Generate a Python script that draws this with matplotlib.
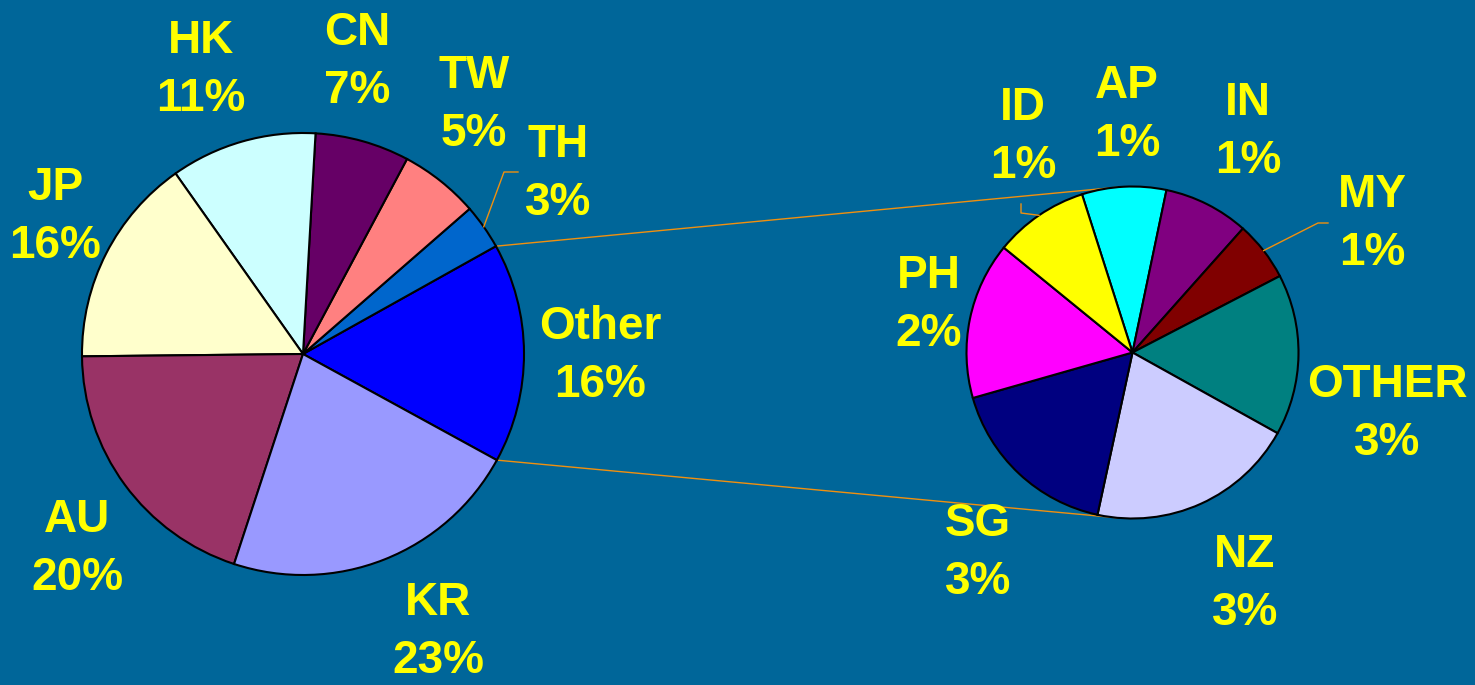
import matplotlib
matplotlib.use('Agg')
import matplotlib.pyplot as plt
import numpy as np

# main pie (counter-clockwise from the "Other" wedge)
main_names = ['Other', 'TH', 'TW', 'CN', 'HK', 'JP', 'AU', 'KR']
main_shares = [16.1, 3.3, 5.8, 6.9, 10.7, 15.4, 19.8, 22.1]
main_pct = ['16%', '3%', '5%', '7%', '11%', '16%', '20%', '23%']
main_colors = ['#0000FF', '#0066CC', '#FF8080', '#660066', '#CCFFFF',
               '#FFFFCC', '#993366', '#9999FF']

# breakdown of "Other" (clockwise from AP)
sub_names = ['AP', 'IN', 'MY', 'OTHER', 'NZ', 'SG', 'PH', 'ID']
sub_shares = [8.2, 8.3, 5.8, 15.7, 20.3, 17.2, 15.3, 9.2]
sub_pct = ['1%', '1%', '1%', '3%', '3%', '3%', '2%', '1%']
sub_colors = ['#00FFFF', '#800080', '#800000', '#008080', '#CCCCFF',
              '#000080', '#FF00FF', '#FFFF00']

W, H = 1475, 685
BG = '#006699'
YEL = '#FFFF00'
LINE = '#F0900F'

fig = plt.figure(figsize=(W / 100, H / 100), dpi=100, facecolor=BG)
ax = fig.add_axes([0, 0, 1, 1])
ax.set_facecolor(BG)

c1, r1 = (303, H - 354), 221
c2, r2 = (1132.5, H - 352.5), 166

edge = dict(edgecolor='black', linewidth=1.5)
w1, _ = ax.pie(main_shares, colors=main_colors, startangle=-28.7,
               counterclock=True, center=c1, radius=r1, wedgeprops=edge,
               frame=True)
w2, _ = ax.pie(sub_shares, colors=sub_colors, startangle=107.7,
               counterclock=False, center=c2, radius=r2, wedgeprops=edge,
               frame=True)
ax.set_xlim(0, W)
ax.set_ylim(0, H)
ax.set_aspect('auto')
ax.axis('off')


def on_circle(c, r, deg):
    a = np.radians(deg)
    return c[0] + r * np.cos(a), c[1] + r * np.sin(a)


# connector lines between the "Other" wedge and the breakdown pie
other = w1[0]
for a_main, a_sub in [(other.theta2, 94.4), (other.theta1, 264.7)]:
    x0, y0 = on_circle(c1, r1, a_main)
    x1, y1 = on_circle(c2, r2, a_sub)
    ax.plot([x0, x1], [y0, y1], color=LINE, lw=1, zorder=0.5)

# text positions (pixel coords, y from top)
main_pos = [(600, 356), (558, 174), (474, 105), (357, 62), (201, 70),
            (55, 217), (77, 549), (438, 632)]
sub_pos = [(1127, 115), (1248, 132), (1372, 224), (1387, 414),
           (1245, 584), (978, 553), (929, 305), (1023, 137)]

font = dict(color=YEL, fontsize=33, fontweight='bold',
            family=['Liberation Sans', 'DejaVu Sans'],
            ha='center', va='center', linespacing=1.42)
for name, pct, (x, y) in zip(main_names, main_pct, main_pos):
    ax.text(x, H - y, f'{name}\n{pct}', **font)
for name, pct, (x, y) in zip(sub_names, sub_pct, sub_pos):
    ax.text(x, H - y, f'{name}\n{pct}', **font)

# small leader lines for the thin wedges
leaders = [
    (w1[main_names.index('TH')], c1, r1, [(504, 172), (518, 172)]),
    (w2[sub_names.index('ID')], c2, r2, [(1021, 213), (1021, 204)]),
    (w2[sub_names.index('MY')], c2, r2, [(1318, 223), (1328, 223)]),
]
for w, c, r, pts in leaders:
    mid = (w.theta1 + w.theta2) / 2
    x0, y0 = on_circle(c, r, mid)
    xs = [x0] + [p[0] for p in pts]
    ys = [y0] + [H - p[1] for p in pts]
    ax.plot(xs, ys, color=LINE, lw=1)

fig.savefig('out.png', dpi=100, facecolor=BG)
